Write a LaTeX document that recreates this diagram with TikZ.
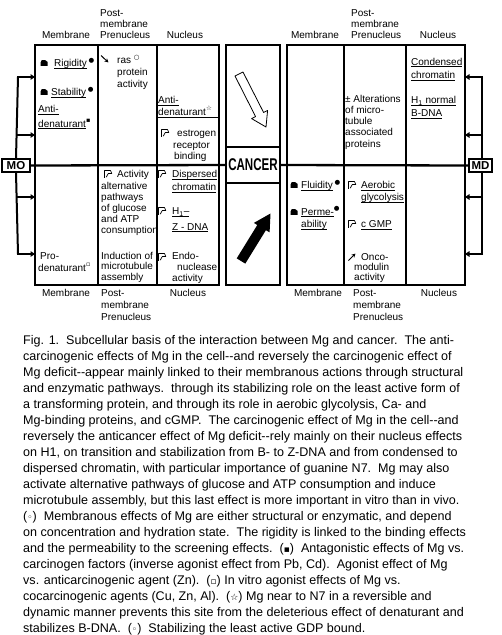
\documentclass[tikz,border=0pt]{standalone}
\usepackage{fontspec}
\usepackage{graphicx}
\setmainfont{Liberation Sans}
\newfontfamily\symf{DejaVu Sans}
\usetikzlibrary{arrows.meta}
\newcommand\dfont{\fontsize{10}{11.5}\selectfont}
\newcommand\sups[1]{\raisebox{0.42em}{\symf\fontsize{6.5}{7}\selectfont #1}}
\newcommand\ul[1]{\setbox0\hbox{#1}\rlap{\rule[-1.9pt]{\wd0}{0.7pt}}\box0}
\newcommand\dd{-\kern0pt-}
\newcommand\cs[1]{{\symf\fontsize{9}{9}\selectfont #1}}
\newcommand\ml[1]{\vtop{\halign{##\hfil\cr#1\crcr}}}
\tikzset{
  frame/.style={line width=2.3pt},
  lbl/.style={font=\dfont, inner sep=0pt, anchor=base west},
  hdr/.style={font=\dfont, inner sep=0pt, anchor=base},
  lsp/.style={font=\fontsize{10}{#1}\selectfont},
  brk/.style={line width=2pt},
  tip/.style={line width=2pt,-{Triangle[length=4.5pt,width=5.5pt]}},
  tagbox/.style={draw, line width=1.3pt, fill=white, inner sep=0pt, minimum width=28pt, minimum height=13pt, font=\bfseries\fontsize{11.5}{12}\selectfont},
  blob/.pic={\fill (-3.5,2.8) -- (-3.5,-0.5) -- (-2.2,-3) -- (1,-3) -- (3.5,-1.2) -- (3.5,2.8) -- cycle;},
  flagicon/.pic={\draw[line width=0.7pt, line join=round] (-3.5,3.8) -- (-3.5,-3.5) -- (2.5,-3.5) -- (3.8,-0.5) -- (0.3,-0.5) -- (-1.8,3.2);},
  arrse/.pic={\draw[line width=1pt,-{Stealth[length=4pt,width=4pt]}] (-4,-3.5) -- (3.5,3.5);},
  arrne/.pic={\draw[line width=1pt,-{Stealth[length=4pt,width=4pt]}] (-3.5,3.5) -- (3.5,-3.5);}
}
\begin{document}
\begin{tikzpicture}[x=1pt,y=-1pt]
\useasboundingbox (0,0) rectangle (502,635);
% frames
\draw[frame] (35,45) rectangle (219,285);
\draw[frame] (97.7,45) -- (97.7,285) (156.7,45) -- (156.7,285);
\draw[frame] (226,45) rectangle (280,285);
\draw[frame] (226,147) -- (280,147) (226,183) -- (280,183);
\draw[frame] (287,45) rectangle (465,285);
\draw[frame] (344,45) -- (344,285) (406,45) -- (406,285);
\draw[line width=0.8pt] (156.7,117.3) -- (219,117.3);
% tags
\node[tagbox] (MO) at (16,165.5) {MO};
\node[tagbox, minimum width=23pt] (MD) at (480.5,165.5) {MD};
\node[inner sep=0pt] (CAN) at (253,165) {\scalebox{0.68}[1]{\bfseries\fontsize{17}{17}\selectfont CANCER}};
\draw[frame] (MO.east) -- (226,165);
\draw[frame] (280,165) -- (MD.west);
% left bracket
\coordinate (lb1) at (18,77); \coordinate (lb2) at (18,135);
\coordinate (lb3) at (18,197); \coordinate (lb4) at (18,254);
\coordinate (le1) at (35,77); \coordinate (le2) at (35,135);
\coordinate (le3) at (35,197); \coordinate (le4) at (35,254);
\draw[brk] (lb1) -- (MO.north) (MO.south) -- (lb4);
\foreach \i in {1,...,4} \draw[tip] ([xshift=-1pt]lb\i) -- (le\i);
% right bracket
\coordinate (rb1) at (482,77); \coordinate (rb2) at (482,135);
\coordinate (rb3) at (482,197); \coordinate (rb4) at (482,254);
\coordinate (re1) at (465,77); \coordinate (re2) at (465,135);
\coordinate (re3) at (465,197); \coordinate (re4) at (465,254);
\draw[brk] (rb1) -- (rb1 |- MD.north) (rb4 |- MD.south) -- (rb4);
\foreach \i in {1,...,4} \draw[tip] ([xshift=1pt]rb\i) -- (re\i);
% centre arrows
\draw[line width=0.8pt, line join=round] (235,76) -- (255.6,116.6) -- (251.6,118.6) -- (266,127) -- (267.6,110.4) -- (263.6,112.5) -- (243,72) -- cycle;
\fill (245.3,263.6) -- (265.9,230.2) -- (269.6,232.3) -- (270.5,213.5) -- (253.9,222.9) -- (257.3,225) -- (236.7,258.4) -- cycle;
% headers top
\node[hdr] (th1) at (66,38.5) {Membrane};
\node[lbl, lsp=11] (th2) at (100,16.5) {\ml{Post-\cr membrane\cr Prenucleus}};
\node[hdr] (th3) at (185,38.5) {Nucleus};
\node[hdr] (th4) at (315,38.5) {Membrane};
\node[lbl, lsp=11] (th5) at (351,16.5) {\ml{Post-\cr membrane\cr Prenucleus}};
\node[hdr] (th6) at (438,38.5) {Nucleus};
% headers bottom
\node[hdr] (bh1) at (66,296.5) {Membrane};
\node[lbl, lsp=12] (bh2) at (101,296.5) {\ml{Post-\cr membrane\cr Prenucleus}};
\node[hdr] (bh3) at (188,296.5) {Nucleus};
\node[hdr] (bh4) at (318,296.5) {Membrane};
\node[lbl, lsp=12] (bh5) at (353,296.5) {\ml{Post-\cr membrane\cr Prenucleus}};
\node[hdr] (bh6) at (439,296.5) {Nucleus};
% top-left cells
\pic at (44,63) {blob};
\node[lbl] (rig) at (54,66.5) {\ul{Rigidity}\,\sups{●}};
\pic at (44,92) {blob};
\node[lbl] (stab) at (51,95.5) {\ul{Stability}\,\sups{●}};
\node[lbl, lsp=14.5] (antim) at (38,112.5) {\ml{\ul{Anti-}\cr \ul{denaturant}\sups{▪}}};
\pic at (105,59) {arrse};
\node[lbl, lsp=11.8] (ras) at (117,63.5) {\ml{ras \sups{○}\cr protein\cr activity}};
\node[lbl] (antin) at (158,103.5) {\ml{\ul{Anti-}\cr denaturant\sups{☆}}};
\pic at (165,133) {flagicon};
\node[lbl] (estr) at (177,136.5) {estrogen};
\node[lbl] (rec) at (173,148) {receptor};
\node[lbl] (bind) at (174,159.5) {binding};
% bottom-left cells
\node[lbl, lsp=12] (pro) at (38,259) {\ml{\hspace{2pt}Pro-\cr denaturant\sups{▫}}};
\pic at (108,174) {flagicon};
\node[lbl] (act1) at (117,177.5) {Activity};
\node[lbl, lsp=11.2] (act2) at (101,189) {\ml{alternative\cr pathways\cr of glucose\cr and ATP\cr consumption}};
\node[lbl, lsp=10.8] (ind) at (101,259) {\ml{Induction of\cr microtubule\cr assembly}};
\pic at (162,174) {flagicon};
\node[lbl, lsp=13] (disp) at (172,177.5) {\ml{\ul{Dispersed}\cr \ul{chromatin}}};
\pic at (162,211) {flagicon};
\node[lbl, lsp=15.5] (h1z) at (172,214.5) {\ml{\ul{H\textsubscript{1}–}\cr \ul{Z - DNA}}};
\pic at (162,257) {flagicon};
\node[lbl, lsp=10.8] (endo) at (172,259.5) {\ml{Endo-\cr \hspace{5pt}nuclease\cr activity}};
% top-right cells
\node[lbl, lsp=11.3] (alt) at (345,102) {\ml{± Alterations\cr of micro-\cr tubule\cr associated\cr proteins}};
\node[lbl, lsp=13.5] (cond) at (411,65) {\ml{\ul{Condensed}\cr \ul{chromatin}}};
\node[lbl, lsp=13.3] (h1n) at (411,103.5) {\ml{\ul{H\textsubscript{1} normal}\cr \ul{B-DNA}}};
% bottom-right cells
\pic at (294,185) {blob};
\node[lbl] (flu) at (301,188.5) {\ul{Fluidity}\,\sups{●}};
\pic at (294,212) {blob};
\node[lbl, lsp=12.5] (perm) at (301,215) {\ml{\ul{Perme-}\sups{●}\cr \ul{ability}}};
\pic at (352,185) {flagicon};
\node[lbl, lsp=12.3] (aer) at (361,188.5) {\ml{\ul{Aerobic}\cr \ul{glycolysis}}};
\pic at (352,224) {flagicon};
\node[lbl] (cgmp) at (361,227.5) {\ul{c GMP}};
\pic at (352,257) {arrne};
\node[lbl] (onco) at (361,260.5) {Onco-};
\node[lbl, lsp=10] (onco2) at (354,270.5) {\ml{modulin\cr activity}};
% caption
\node[inner sep=0pt, anchor=base west, font=\fontsize{12.55}{16}\selectfont] (cap) at (23,344) {\ml{%
Fig. 1.\ \ Subcellular basis of the interaction between Mg and cancer.\ \ The anti-\cr
carcinogenic effects of Mg in the cell\dd and reversely the carcinogenic effect of\cr
Mg deficit\dd appear mainly linked to their membranous actions through structural\cr
and enzymatic pathways.\ \ through its stabilizing role on the least active form of\cr
a transforming protein, and through its role in aerobic glycolysis, Ca- and\cr
Mg-binding proteins, and cGMP.\ \ The carcinogenic effect of Mg in the cell\dd and\cr
reversely the anticancer effect of Mg deficit\dd rely mainly on their nucleus effects\cr
on H1, on transition and stabilization from B- to Z-DNA and from condensed to\cr
dispersed chromatin, with particular importance of guanine N7.\ \ Mg may also\cr
activate alternative pathways of glucose and ATP consumption and induce\cr
microtubule assembly, but this last effect is more important in vitro than in vivo.\cr
(\cs{◦})\ \ Membranous effects of Mg are either structural or enzymatic, and depend\cr
on concentration and hydration state.\ \ The rigidity is linked to the binding effects\cr
and the permeability to the screening effects.\ \ (\cs{▪})\ \ Antagonistic effects of Mg vs.\cr
carcinogen factors (inverse agonist effect from Pb, Cd).\ \ Agonist effect of Mg\cr
vs. anticarcinogenic agent (Zn).\ \ (\cs{▫}) In vitro agonist effects of Mg vs.\cr
cocarcinogenic agents (Cu, Zn, Al).\ \ (\cs{☆}) Mg near to N7 in a reversible and\cr
dynamic manner prevents this site from the deleterious effect of denaturant and\cr
stabilizes B-DNA.\ \ (\cs{◦})\ \ Stabilizing the least active GDP bound.}};
\end{tikzpicture}
\end{document}
